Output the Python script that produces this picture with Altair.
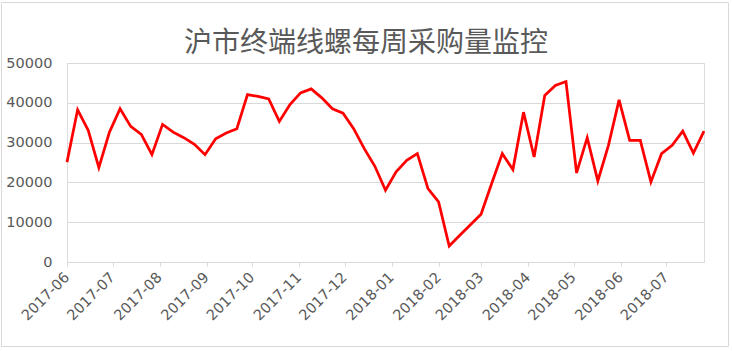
import altair as alt
import pandas as pd

title_text = "沪市终端线螺每周采购量监控"

start_date = "2017-06-01"
n_weeks = 61
dates = [d.strftime("%Y-%m-%d") for d in pd.date_range(start_date, periods=n_weeks, freq="7D")]

values = [
    25100, 38250, 33070, 23720, 32640, 38500, 34070, 32060, 26970, 34570,
    32640, 31230, 29560, 26970, 30980, 32390, 33490, 42080, 41600, 41000,
    35320, 39580, 42500, 43500, 41250, 38500, 37400, 33490, 28470, 24050,
    18040, 22630, 25550, 27220, 18460, 15110, 4010, 6700, 9350, 12020,
    19710, 27220, 23220, 37650, 26380, 41830, 44340, 45340, 22370, 31230,
    20370, 29310, 40750, 30560, 30560, 20120, 27220, 29310, 32890, 27380,
    32890,
]

month_ticks = [
    (2017, 6), (2017, 7), (2017, 8), (2017, 9), (2017, 10), (2017, 11), (2017, 12),
    (2018, 1), (2018, 2), (2018, 3), (2018, 4), (2018, 5), (2018, 6), (2018, 7),
]
y_ticks = [0, 10000, 20000, 30000, 40000, 50000]

df = pd.DataFrame({"date": dates, "value": values})

GRAY = "#d9d9d9"
TEXT = "#595959"
LABEL_FONT = "DejaVu Sans"

x_enc = alt.X(
    "date:T",
    scale=alt.Scale(
        type="utc",
        nice=False,
        domain=[
            alt.DateTime(year=2017, month=6, date=1, utc=True),
            alt.DateTime(year=2018, month=7, date=26, utc=True),
        ],
    ),
    axis=alt.Axis(
        title=None,
        values=[alt.DateTime(year=y, month=m, date=1, utc=True) for y, m in month_ticks],
        labelExpr="utcFormat(datum.value, '%Y-%m')",
        labelAngle=-45,
        labelAlign="right",
        labelBaseline="middle",
        labelPadding=9,
        labelFont=LABEL_FONT,
        labelFontSize=14.5,
        labelColor=TEXT,
        labelOverlap=False,
        labelFlush=False,
        labelBound=False,
        domainColor=GRAY,
        domainWidth=1,
        tickColor=GRAY,
        tickSize=4,
        tickWidth=1,
        grid=False,
    ),
)

y_enc = alt.Y(
    "value:Q",
    scale=alt.Scale(domain=[0, 50000], nice=False, zero=True),
    axis=alt.Axis(
        title=None,
        values=y_ticks,
        format="d",
        domain=False,
        ticks=False,
        labelPadding=15,
        labelFont=LABEL_FONT,
        labelFontSize=14.5,
        labelColor=TEXT,
        grid=True,
        gridColor=GRAY,
        gridWidth=1,
    ),
)

line = alt.Chart(df).mark_line(color="#ff0000", strokeWidth=2.75).encode(x=x_enc, y=y_enc)

single = pd.DataFrame({"title": [title_text]})

frame = alt.Chart(single).mark_rect(
    filled=False, stroke=GRAY, strokeWidth=1
).encode(
    x=alt.value(-65.5), x2=alt.value(661.5), y=alt.value(-60.5), y2=alt.value(283.5)
)

title_mark = alt.Chart(single).mark_text(
    font="Noto Sans CJK SC",
    fontSize=28,
    fontWeight="normal",
    color=TEXT,
    align="center",
    baseline="alphabetic",
).encode(
    x=alt.value(299),
    y=alt.value(-11),
    text="title:N",
)

chart = alt.layer(frame, line, title_mark).properties(
    width=637,
    height=199,
    autosize=alt.AutoSizeParams(type="none"),
    padding={"left": 67, "top": 63, "right": 28, "bottom": 89},
).configure_view(strokeWidth=0).configure(background="white")

chart.save("out.html", embed_options={"renderer": "svg", "actions": False})
